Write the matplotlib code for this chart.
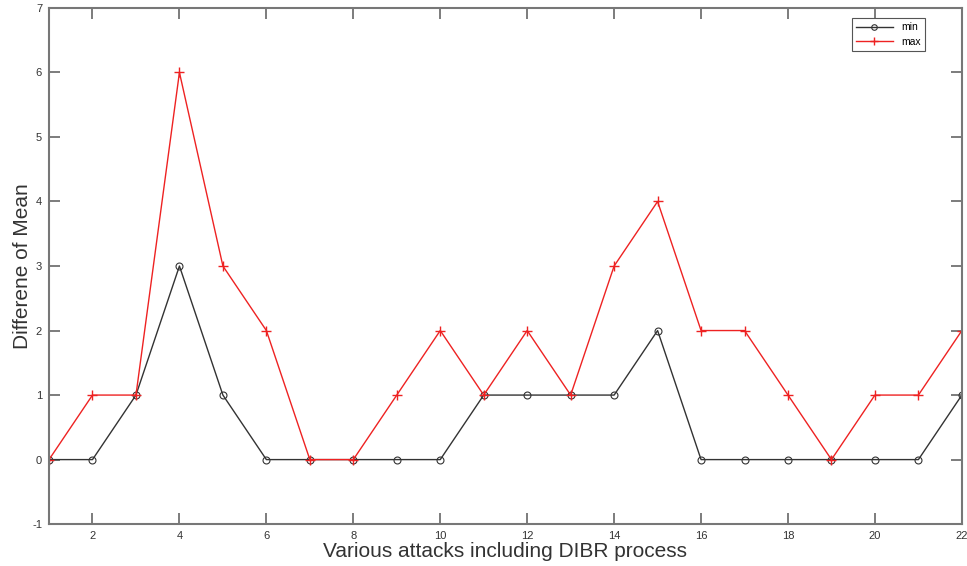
import numpy as np
import matplotlib.pyplot as plt

plt.rcParams['font.family'] = ['Liberation Sans', 'DejaVu Sans']
plt.rcParams['axes.unicode_minus'] = False

# data
attacks = list(range(1, 23))
min_vals = [0, 0, 1, 3, 1, 0, 0, 0, 0, 0, 1, 1, 1, 1, 2, 0, 0, 0, 0, 0, 0, 1]
max_vals = [0, 1, 1, 6, 3, 2, 0, 0, 1, 2, 1, 2, 1, 3, 4, 2, 2, 1, 0, 1, 1, 2]
xticks = [2, 4, 6, 8, 10, 12, 14, 16, 18, 20, 22]
yticks = [-1, 0, 1, 2, 3, 4, 5, 6, 7]

fig = plt.figure(figsize=(9.67, 5.66), dpi=100)
ax = fig.add_axes([0.0507, 0.074, 0.944, 0.912])

ax.plot(attacks, min_vals, color='#333333', lw=1, marker='o', ms=5,
        mfc='none', mec='#333333', mew=0.8, label='min')
ax.plot(attacks, max_vals, color='#ee2222', lw=1, marker='+', ms=7,
        mew=1, label='max')

ax.set_xlim(1, 22)
ax.set_ylim(-1, 7)
ax.set_xticks(xticks)
ax.set_yticks(yticks)
ax.tick_params(direction='in', top=True, right=True, length=8, width=1.2,
               color='#666666', labelsize=8, labelcolor='#333333', pad=5)
for s in ax.spines.values():
    s.set_color('#777777')
    s.set_linewidth(1.5)

ax.set_xlabel('Various attacks including DIBR process', fontsize=15,
              color='#333333', labelpad=1)
ax.set_ylabel('Differene of Mean', fontsize=15, color='#333333', labelpad=0)

leg = ax.legend(loc='upper right', bbox_to_anchor=(0.965, 0.99), fontsize=7.5,
                fancybox=False, framealpha=1, edgecolor='#555555',
                handlelength=3.5, borderpad=0.4, labelspacing=0.4,
                markerscale=0.8)
leg.get_frame().set_linewidth(0.8)

plt.savefig('out.png', dpi=100)
plt.close()
